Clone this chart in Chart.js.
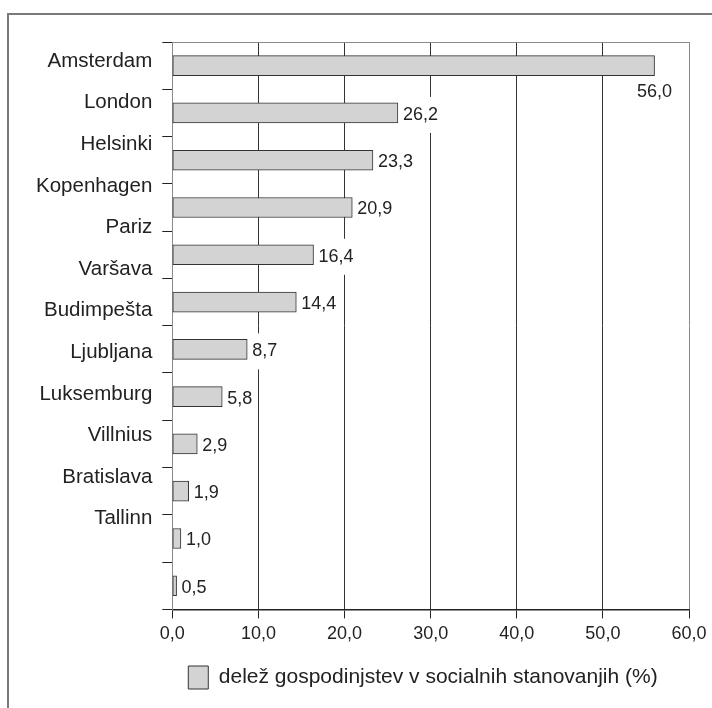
<!DOCTYPE html>
<html><head><meta charset="utf-8">
<script src="https://cdn.jsdelivr.net/npm/chart.js@4.4.1/dist/chart.umd.min.js"></script>
<style>
html,body{margin:0;padding:0;background:#fff;overflow:hidden;width:712px;height:708px}
#frame{position:absolute;left:7px;top:13px;width:720px;height:720px;border-left:2px solid #7a7a7a;border-top:2px solid #7a7a7a;box-sizing:border-box}
#wrap{position:absolute;left:0;top:0;width:712px;height:712px}
</style></head><body>
<div id="frame"></div>
<div id="wrap"><canvas id="c"></canvas></div>
<script>
const cities = ['Amsterdam','London','Helsinki','Kopenhagen','Pariz','Varšava','Budimpešta','Ljubljana','Luksemburg','Villnius','Bratislava','Tallinn'];
const shares = [56.0, 26.2, 23.3, 20.9, 16.4, 14.4, 8.7, 5.8, 2.9, 1.9, 1.0, 0.5];
const xTicks = [0, 10, 20, 30, 40, 50, 60];
const seriesLabel = 'delež gospodinjstev v socialnih stanovanjih (%)';

const FONT = "'Liberation Sans', Arial, Helvetica, sans-serif";
const fmt = v => Number(v).toFixed(1).replace('.', ',');

Chart.defaults.font.family = FONT;
Chart.defaults.color = '#222';

const valueLabels = {
  id: 'valueLabels',
  afterDatasetsDraw(chart) {
    const {ctx, chartArea} = chart;
    const meta = chart.getDatasetMeta(0);
    ctx.save();
    ctx.font = '18px ' + FONT;
    ctx.textBaseline = 'middle';
    meta.data.forEach((bar, i) => {
      const txt = fmt(shares[i]);
      const w = ctx.measureText(txt).width;
      const tx = bar.x + 5, ty = bar.y + 2;
      if (tx + w > chartArea.right - 4) {
        ctx.fillStyle = '#222';
        ctx.textAlign = 'center';
        ctx.fillText(txt, bar.x, bar.y + bar.height / 2 + 16);
      } else {
        ctx.fillStyle = '#fff';
        ctx.fillRect(tx - 1, ty - 18, w + 3, 36);
        ctx.fillStyle = '#222';
        ctx.textAlign = 'left';
        ctx.fillText(txt, tx, ty);
      }
    });
    ctx.restore();
  }
};

new Chart(document.getElementById('c'), {
  type: 'bar',
  data: {
    labels: cities,
    datasets: [{
      label: seriesLabel,
      data: shares,
      backgroundColor: '#d3d3d3',
      borderColor: '#333',
      borderWidth: 1,
      borderSkipped: false,
      barThickness: 20,
      xAxisID: 'x',
      yAxisID: 'y'
    }]
  },
  options: {
    indexAxis: 'y',
    responsive: true,
    maintainAspectRatio: false,
    animation: false,
    layout: { padding: { top: 42, left: 26, right: 23, bottom: 13 } },
    plugins: {
      tooltip: { enabled: false },
      legend: {
        position: 'bottom',
        align: 'start',
        fullSize: false,
        labels: {
          font: { size: 21 },
          color: '#222',
          boxWidth: 20,
          boxHeight: 23,
          padding: 16
        }
      }
    },
    scales: {
      x: {
        type: 'linear',
        position: 'bottom',
        min: xTicks[0],
        max: xTicks[xTicks.length - 1],
        afterBuildTicks: s => { s.ticks = xTicks.map(v => ({ value: v })); },
        ticks: { callback: v => fmt(v), font: { size: 18 }, color: '#222', padding: 5, autoSkip: false, maxRotation: 0 },
        grid: {
          color: c => (c.tick && (c.tick.value === 0 || c.tick.value === 60)) ? '#8a8a8a' : '#333',
          tickColor: '#222',
          tickLength: 9,
          lineWidth: 1
        },
        border: { color: '#222', width: 1.5 }
      },
      x2: {
        type: 'linear',
        position: 'top',
        min: 0, max: 60,
        grid: { display: false, drawTicks: false },
        ticks: { display: false },
        border: { color: '#8a8a8a', width: 1 }
      },
      y: {
        type: 'category',
        position: 'left',
        offset: true,
        weight: 0,
        ticks: { display: false },
        grid: { offset: true, drawOnChartArea: false, drawTicks: true, tickLength: 10, tickColor: '#222', color: '#222' },
        border: { color: '#8a8a8a', width: 1 }
      },
      yl: {
        type: 'linear',
        position: 'left',
        reverse: true,
        bounds: 'data',
        offset: false,
        weight: 1,
        min: -0.459,
        max: 13.177,
        afterBuildTicks: s => { s.ticks = cities.map((c, i) => ({ value: i })); },
        ticks: { callback: v => cities[v] !== undefined ? cities[v] : '', font: { size: 20.5 }, color: '#222', padding: 10, autoSkip: false },
        grid: { display: false, drawTicks: false, offset: false },
        border: { display: false }
      }
    }
  },
  plugins: [valueLabels]
});
</script>
</body></html>
